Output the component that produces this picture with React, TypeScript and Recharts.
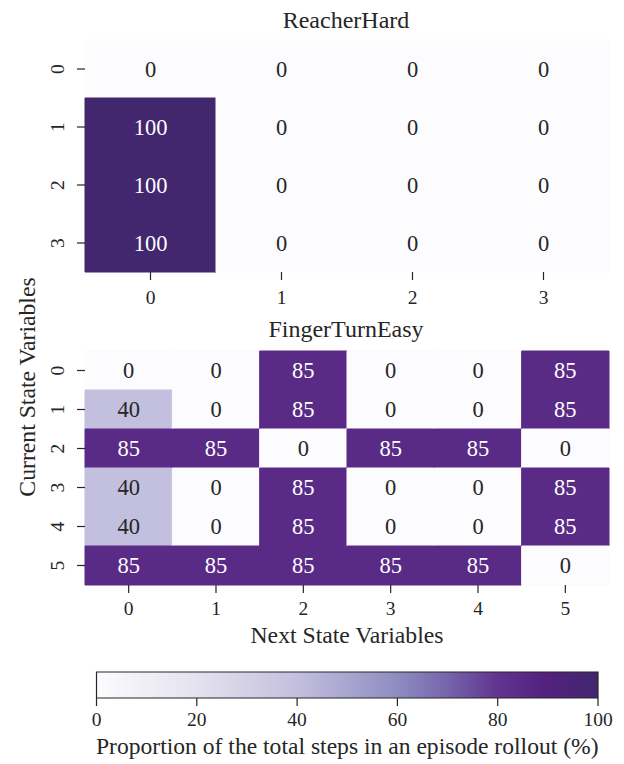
import { BarChart, Bar, XAxis, YAxis, Cell, LabelList } from "recharts";

// heatmap values (percent of steps)
const reacherRows = ["0", "1", "2", "3"];
const reacherCols = ["0", "1", "2", "3"];
const reacherValues = [
  [0, 0, 0, 0],
  [100, 0, 0, 0],
  [100, 0, 0, 0],
  [100, 0, 0, 0],
];

const fingerRows = ["0", "1", "2", "3", "4", "5"];
const fingerCols = ["0", "1", "2", "3", "4", "5"];
const fingerValues = [
  [0, 0, 85, 0, 0, 85],
  [40, 0, 85, 0, 0, 85],
  [85, 85, 0, 85, 85, 0],
  [40, 0, 85, 0, 0, 85],
  [40, 0, 85, 0, 0, 85],
  [85, 85, 85, 85, 85, 0],
];

const colorbarTicks = [0, 20, 40, 60, 80, 100];

// Purples-like colormap, as seen in the figure
const cmapStops: [number, string][] = [
  [0, "#fcfbfd"],
  [20, "#e4e2ef"],
  [40, "#c3bfde"],
  [60, "#8f8cc1"],
  [70, "#7565ab"],
  [80, "#61348f"],
  [90, "#53217d"],
  [100, "#42266e"],
];

const FONT = "'Liberation Serif', 'Times New Roman', serif";
const INK = "#262626";

function hexToRgb(h: string) {
  const n = parseInt(h.slice(1), 16);
  return [(n >> 16) & 255, (n >> 8) & 255, n & 255];
}

function colorFor(v: number) {
  for (let i = 1; i < cmapStops.length; i++) {
    const [v1, c1] = cmapStops[i];
    const [v0, c0] = cmapStops[i - 1];
    if (v <= v1) {
      const t = (v - v0) / (v1 - v0);
      const a = hexToRgb(c0);
      const b = hexToRgb(c1);
      const m = a.map((x, k) => Math.round(x + (b[k] - x) * t));
      return `rgb(${m[0]},${m[1]},${m[2]})`;
    }
  }
  return cmapStops[cmapStops.length - 1][1];
}

type HeatmapProps = {
  rows: string[];
  cols: string[];
  values: number[][];
  height: number;
  marginTop: number;
  axisHeight: number;
  marginBottom: number;
  tickOffset: number;
  xLabel?: string;
};

function Heatmap({ rows, cols, values, height, marginTop, axisHeight, marginBottom, tickOffset, xLabel }: HeatmapProps) {
  const data = rows.map((r) => {
    const d: Record<string, string | number> = { row: r };
    cols.forEach((_, j) => (d[`c${j}`] = 1));
    return d;
  });

  const yTick = ({ y, payload }: any) => (
    <text
      transform={`translate(57.5, ${y}) rotate(-90)`}
      textAnchor="middle"
      dominantBaseline="central"
      fontSize={19.5}
      fill={INK}
      fontFamily={FONT}
    >
      {payload.value}
    </text>
  );

  const xTick = ({ x, y, payload }: any) => (
    <text x={x} y={y + tickOffset} textAnchor="middle" dominantBaseline="central" fontSize={19.5} fill={INK} fontFamily={FONT}>
      {cols[Math.round(payload.value - 0.5)]}
    </text>
  );

  return (
    <BarChart
      width={624}
      height={height}
      data={data}
      layout="vertical"
      barCategoryGap={0}
      barGap={0}
      margin={{ top: marginTop, right: 15, left: 0, bottom: marginBottom }}
    >
      <YAxis
        type="category"
        dataKey="row"
        width={85}
        axisLine={false}
        tickSize={8}
        tickLine={{ stroke: INK, strokeWidth: 1.2 }}
        tick={yTick}
        interval={0}
      />
      <XAxis
        type="number"
        domain={[0, cols.length]}
        ticks={cols.map((_, j) => j + 0.5)}
        height={axisHeight}
        axisLine={false}
        tickSize={8}
        tickLine={{ stroke: INK, strokeWidth: 1.2 }}
        tick={xTick}
        interval={0}
        label={
          xLabel
            ? ({ viewBox }: any) => (
                <text
                  x={viewBox.x + viewBox.width / 2}
                  y={viewBox.y + 58}
                  textAnchor="middle"
                  fontSize={23.7}
                  fill={INK}
                  fontFamily={FONT}
                >
                  {xLabel}
                </text>
              )
            : undefined
        }
      />
      {cols.map((_, j) => (
        <Bar key={j} dataKey={`c${j}`} stackId="h" isAnimationActive={false}>
          {rows.map((_, i) => (
            <Cell key={i} fill={colorFor(values[i][j])} stroke={colorFor(values[i][j])} strokeWidth={1} />
          ))}
          <LabelList
            dataKey={`c${j}`}
            content={(p: any) => {
              const v = values[p.index][j];
              return (
                <text
                  x={p.x + p.width / 2}
                  y={p.y + p.height / 2}
                  textAnchor="middle"
                  dominantBaseline="central"
                  fontSize={22.5}
                  fill={v >= 60 ? "#ffffff" : INK}
                  fontFamily={FONT}
                >
                  {v}
                </text>
              );
            }}
          />
        </Bar>
      ))}
    </BarChart>
  );
}

function Colorbar() {
  const data = [{ name: "cb", v: 100 }];
  const tick = ({ x, y, payload }: any) => (
    <text x={x} y={y + 11} textAnchor="middle" dominantBaseline="central" fontSize={19.5} fill={INK} fontFamily={FONT}>
      {payload.value}
    </text>
  );
  return (
    <BarChart
      width={624}
      height={114}
      data={data}
      layout="vertical"
      barCategoryGap={0}
      margin={{ top: 22, right: 26, left: 96.5, bottom: 6 }}
    >
      <defs>
        <linearGradient id="cbar" x1="0" y1="0" x2="1" y2="0">
          {cmapStops.map(([v, c]) => (
            <stop key={v} offset={`${v}%`} stopColor={c} />
          ))}
        </linearGradient>
      </defs>
      <YAxis type="category" dataKey="name" hide />
      <XAxis
        type="number"
        domain={[0, 100]}
        ticks={colorbarTicks}
        height={60}
        axisLine={false}
        tickSize={8}
        tickLine={{ stroke: INK, strokeWidth: 1.2 }}
        tick={tick}
        interval={0}
        label={({ viewBox }: any) => (
          <text
            x={viewBox.x + viewBox.width / 2}
            y={viewBox.y + 56}
            textAnchor="middle"
            fontSize={23.6}
            fill={INK}
            fontFamily={FONT}
          >
            Proportion of the total steps in an episode rollout (%)
          </text>
        )}
      />
      <Bar dataKey="v" fill="url(#cbar)" stroke={INK} strokeWidth={1.2} isAnimationActive={false} />
    </BarChart>
  );
}

export default function App() {
  return (
    <div
      style={{
        position: "absolute",
        left: 0,
        top: 0,
        width: 624,
        height: 764,
        background: "#ffffff",
        fontFamily: FONT,
      }}
    >
      <div style={{ position: "absolute", left: 0, top: 0 }}>
        <Heatmap
          rows={reacherRows}
          cols={reacherCols}
          values={reacherValues}
          height={320}
          marginTop={40}
          axisHeight={40}
          marginBottom={8}
          tickOffset={15}
        />
      </div>
      <div style={{ position: "absolute", left: 0, top: 320 }}>
        <Heatmap
          rows={fingerRows}
          cols={fingerCols}
          values={fingerValues}
          height={330}
          marginTop={31}
          axisHeight={62}
          marginBottom={3}
          tickOffset={13}
          xLabel="Next State Variables"
        />
      </div>
      <div style={{ position: "absolute", left: 0, top: 650 }}>
        <Colorbar />
      </div>
      <svg
        width={624}
        height={764}
        style={{ position: "absolute", left: 0, top: 0, pointerEvents: "none" }}
      >
        <text x={346} y={28} textAnchor="middle" fontSize={24} fill={INK} fontFamily={FONT}>
          ReacherHard
        </text>
        <text x={346} y={337} textAnchor="middle" fontSize={24} fill={INK} fontFamily={FONT}>
          FingerTurnEasy
        </text>
        <text
          transform="translate(27, 387) rotate(-90)"
          textAnchor="middle"
          dominantBaseline="central"
          fontSize={23.7}
          fill={INK}
          fontFamily={FONT}
        >
          Current State Variables
        </text>
      </svg>
    </div>
  );
}
